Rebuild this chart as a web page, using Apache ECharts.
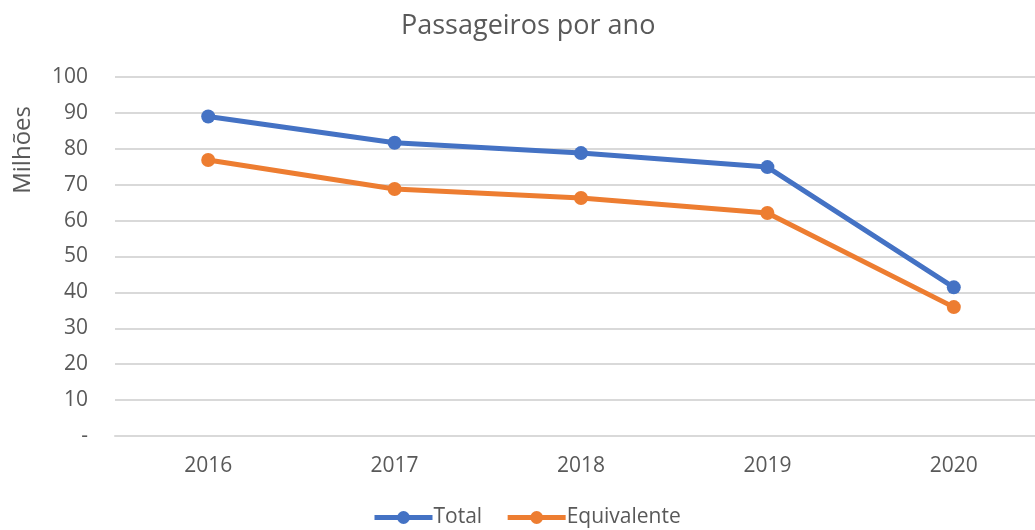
<!DOCTYPE html>
<html>
<head>
<meta charset="utf-8">
<script src="https://cdn.jsdelivr.net/npm/echarts@6/dist/echarts.min.js"></script>
<style>
html,body{margin:0;padding:0;background:#fff;}
#chart{width:1035px;height:530px;}
</style>
</head>
<body>
<div id="chart"></div>
<script>
// dados do gráfico
var anos = ['2016', '2017', '2018', '2019', '2020'];
var total = [89.0, 81.7, 78.8, 74.9, 41.4];
var equivalente = [76.9, 68.8, 66.3, 62.1, 35.9];
var eixoY = [0, 10, 20, 30, 40, 50, 60, 70, 80, 90, 100];

var fonte = '"Open Sans", "Liberation Sans", sans-serif';

var myChart = echarts.init(document.getElementById('chart'));
myChart.setOption({
	animation: false,
	textStyle: { fontFamily: fonte },
	title: {
		text: 'Passageiros por ano',
		left: 396,
		top: 8,
		textStyle: { fontFamily: fonte, fontSize: 27, fontWeight: 'normal', color: '#595959' }
	},
	legend: {
		bottom: -3,
		left: 367,
		itemWidth: 58,
		itemHeight: 16,
		itemGap: 23,
		itemStyle: { borderWidth: 0 },
		lineStyle: { width: 5 },
		textStyle: { fontFamily: fonte, fontSize: 21, color: '#595959', padding: [0, 0, 0, -4] },
		data: ['Total', 'Equivalente']
	},
	grid: { left: 115, top: 77, right: -12, height: 359, outerBoundsMode: 'none' },
	xAxis: {
		type: 'category',
		data: anos,
		boundaryGap: true,
		axisLine: { lineStyle: { color: '#d9d9d9', width: 2 } },
		axisTick: { show: false },
		axisLabel: { margin: 20, fontSize: 21, color: '#595959', fontFamily: fonte }
	},
	yAxis: {
		type: 'value',
		min: eixoY[0],
		max: eixoY[eixoY.length - 1],
		interval: 10,
		axisLine: { show: false },
		axisTick: { show: false },
		splitLine: { lineStyle: { color: '#d9d9d9', width: 2 } },
		axisLabel: {
			margin: 27, fontSize: 21, color: '#595959', fontFamily: fonte,
			formatter: function (v) { return v === 0 ? '-' : v; }
		}
	},
	graphic: [{
		type: 'text',
		left: 11,
		top: 106,
		rotation: Math.PI / 2,
		style: { text: 'Milhões', fontSize: 24, fill: '#595959', fontFamily: fonte }
	}],
	series: [
		{
			name: 'Total',
			type: 'line',
			data: total,
			symbol: 'circle',
			symbolSize: 14,
			itemStyle: { color: '#4472C4' },
			lineStyle: { color: '#4472C4', width: 5 }
		},
		{
			name: 'Equivalente',
			type: 'line',
			data: equivalente,
			symbol: 'circle',
			symbolSize: 14,
			itemStyle: { color: '#ED7D31' },
			lineStyle: { color: '#ED7D31', width: 5 }
		}
	]
});
</script>
</body>
</html>
